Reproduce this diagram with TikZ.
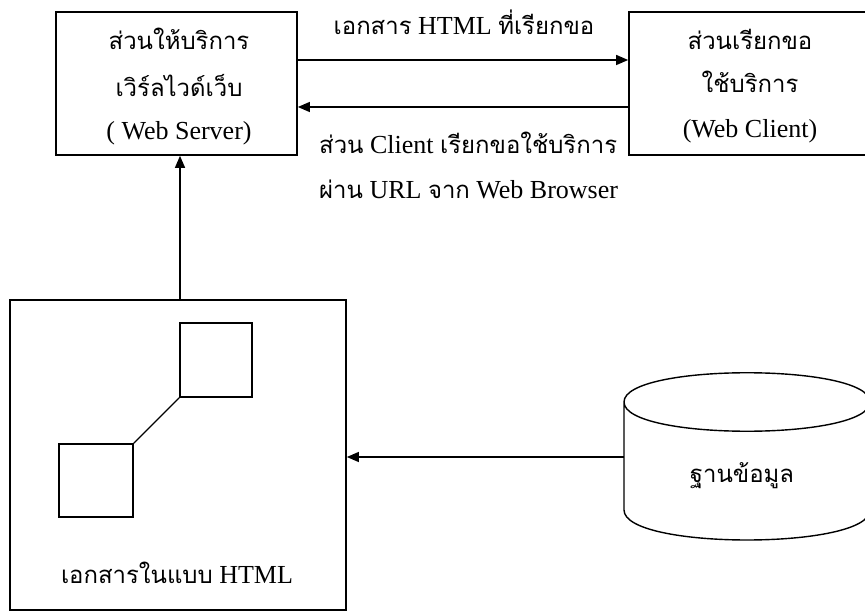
\documentclass[tikz,border=0pt]{standalone}
\usepackage{fontspec}
\setmainfont{Liberation Serif}
\newfontfamily\thaifont[Script=Thai,Scale=0.92]{Loma}
\newcommand{\tha}[1]{{\thaifont #1}}
\usetikzlibrary{arrows.meta}
\begin{document}
\begin{tikzpicture}[x=1pt,y=-1pt,
  box/.style={draw, line width=1.7pt, inner sep=0pt},
  lbl/.style={anchor=base, inner sep=0pt, font=\fontsize{26}{30}\selectfont},
  arr/.style={line width=1.4pt, -{Triangle[length=12pt,width=10pt]}},
  ln/.style={line width=1.4pt}]
\useasboundingbox (0,0) rectangle (865,612);
\clip (0,0) rectangle (865,612);
% boxes
\node[box, minimum width=241pt, minimum height=143pt] (srv) at (176.5,83.5) {};
\node[box, minimum width=241pt, minimum height=143pt] (cli) at (749.5,83.5) {};
\node[box, minimum width=336pt, minimum height=310pt] (html) at (178,455) {};
\node[box, minimum width=72pt, minimum height=74pt] (sqa) at (216,360) {};
\node[box, minimum width=74pt, minimum height=73pt] (sqb) at (96,480.5) {};
% texts
\node[lbl] (s1) at (179,50) {\tha{ส่วนให้บริการ}};
\node[lbl] (s2) at (179,97) {\tha{เวิร์ลไวด์เว็บ}};
\node[lbl] (s3) at (179,140) {( Web Server)};
\node[lbl] (c1) at (750,50) {\tha{ส่วนเรียกขอ}};
\node[lbl] (c2) at (750,93) {\tha{ใช้บริการ}};
\node[lbl] (c3) at (750,138) {(Web Client)};
\node[lbl] (t1) at (464,35) {\tha{เอกสาร} HTML \tha{ที่เรียกขอ}};
\node[lbl, anchor=base west] (t2) at (319,154) {\tha{ส่วน} Client \tha{เรียกขอใช้บริการ}};
\node[lbl, anchor=base west] (t3) at (319,199) {\tha{ผ่าน} URL \tha{จาก} Web Browser};
\node[lbl] (h1) at (177,583) {\tha{เอกสารในแบบ} HTML};
\node[lbl] (db) at (742,482) {\tha{ฐานข้อมูล}};
% database cylinder
\draw[ln] (624,402) .. controls (624,363) and (870,363) .. (870,402)
          .. controls (870,441) and (624,441) .. (624,402) -- (624,510)
          .. controls (624,550) and (870,550) .. (870,510) -- (870,402);
\coordinate (dbl) at (624,457);
% connectors
\draw[arr] (srv.east |- 0,60) -- (cli.west |- 0,60);
\draw[arr] (cli.west |- 0,107) -- (srv.east |- 0,107);
\draw[arr] (html.north -| 180,0) -- (srv.south -| 180,0);
\draw[arr] (dbl) -- (html.east |- dbl);
\draw[ln] (sqa.south west) -- (sqb.north east);
\end{tikzpicture}
\end{document}
